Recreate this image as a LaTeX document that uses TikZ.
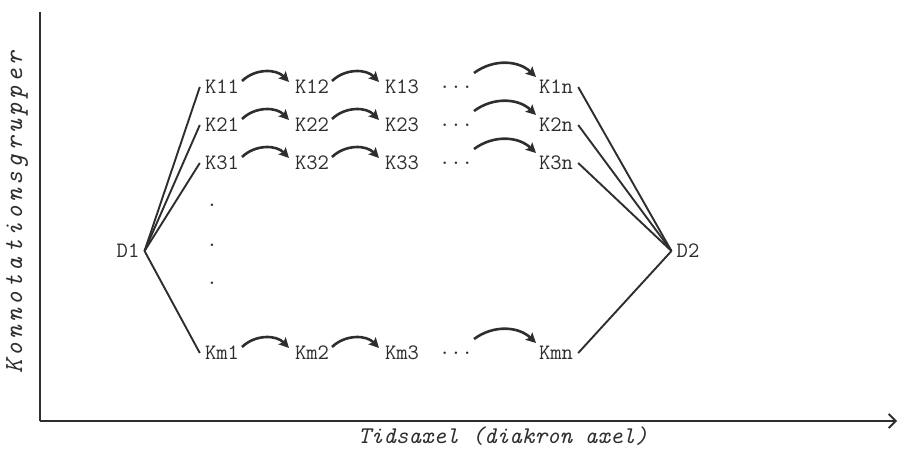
\documentclass[tikz,border=0pt]{standalone}
\usepackage{fontspec}
\usetikzlibrary{arrows.meta,calc}
\definecolor{ink}{HTML}{2E2E2E}
\makeatletter
\newcommand\lspaced[2]{\@tfor\lsch:=#2\do{\lsch\kern#1}}
\makeatother
\tikzset{
  lbl/.style={font=\ttfamily\fontsize{22}{26}\selectfont, text=ink, inner sep=5pt, anchor=center},
  conn/.style={draw=ink, line width=1.9pt},
  arr/.style={draw=ink, line width=2.6pt, -{Stealth[length=10pt,width=10pt,inset=2pt]}},
  axis/.style={draw=ink, line width=1.9pt},
  axlbl/.style={font=\ttfamily\itshape\fontsize{24}{28}\selectfont, text=ink, inner sep=0pt}
}
\begin{document}
\begin{tikzpicture}[x=1pt,y=1pt]
\useasboundingbox (0,0) rectangle (898,448);
% axes
\coordinate (O) at (40,27);
\coordinate (Ytop) at (40,436);
\coordinate (Xend) at (897,27);
\draw[axis] (Ytop) -- (O);
\draw[axis, -{Straight Barb[length=7pt,width=14pt,line width=1.9pt]}] (O) -- (Xend);
\node[axlbl, rotate=90, font=\ttfamily\itshape\fontsize{26}{30}\selectfont] (ylab) at (17,237) {\lspaced{3.5pt}{Konnotationsgrupper}};
\node[axlbl] (xlab) at (503,12) {Tidsaxel (diakron axel)};
% nodes
\node[lbl] (D1) at (128,197) {D1};
\node[lbl] (D2) at (688,197) {D2};
\foreach \r/\y in {1/361,2/323,3/285,m/95}{
  \node[lbl] (K\r1) at (222,\y) {K\r1};
  \node[lbl] (K\r2) at (312,\y) {K\r2};
  \node[lbl] (K\r3) at (402,\y) {K\r3};
  \node[lbl] (dots\r) at (456,\y) {...};
  \node[lbl] (K\r n) at (556,\y) {K\r n};
}
\node[lbl] (v1) at (212,243) {.};
\node[lbl] (v2) at (212,203) {.};
\node[lbl] (v3) at (212,165) {.};
% connectors
\foreach \r in {1,2,3,m}{
  \draw[conn] (D1.east) -- (K\r1.west);
  \draw[conn] (K\r n.east) -- (D2.west);
  \draw[arr] ($(K\r1.center)+(20,6)$) to[bend left=45] ($(K\r2.center)+(-23,5)$);
  \draw[arr] ($(K\r2.center)+(20,6)$) to[bend left=45] ($(K\r3.center)+(-23,5)$);
  \draw[arr] ($(dots\r.center)+(18,14)$) to[bend left=40] ($(K\r n.center)+(-20,10)$);
}
\end{tikzpicture}
\end{document}
